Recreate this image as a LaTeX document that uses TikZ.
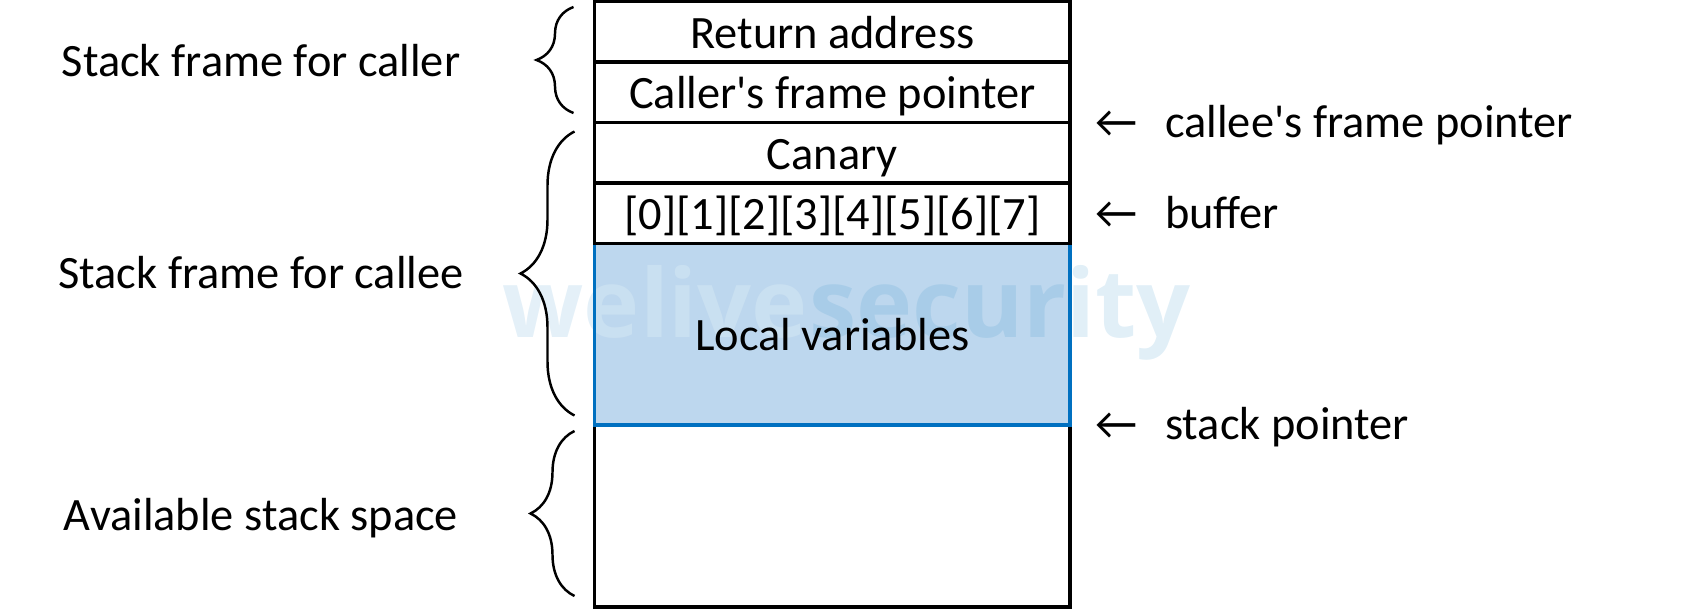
\documentclass[tikz,border=0pt]{standalone}
\usepackage{fontspec}
\setmainfont{Carlito}
\newfontfamily\wmfont{Open Sans}
\usetikzlibrary{positioning, calc, decorations.pathreplacing}

\definecolor{localfill}{HTML}{BDD7EE}
\definecolor{localline}{HTML}{0070C0}
\definecolor{wmblue}{RGB}{41,141,198}
\definecolor{wmpale}{RGB}{210,230,243}

\pgfdeclarelayer{bg}
\pgfdeclarelayer{wm}
\pgfsetlayers{bg,wm,main}

\tikzset{
	cell/.style = {draw, line width = 0.9pt, minimum width = 4.755cm, minimum height = 0.605cm, inner sep = 0pt, outer sep = 0pt, text height = 9.3pt},
	stackbrace/.style = {decorate, decoration = {brace, amplitude = #1}, line width = 0.7pt},
	wm/.style = {font = \wmfont\bfseries\fontsize{27}{27}\selectfont, inner sep = 0pt}
}

\begin{document}
\begin{tikzpicture}[every node/.style = {font = \fontsize{13.2}{15}\selectfont, text height = 8.5pt, text depth = 0pt}]

	\useasboundingbox (0, 0) rectangle (16.94, -6.10);

	% Stack cells, from the bottom up
	
	\node [cell, minimum height = 1.82cm] (avail) at (8.3225, -5.16) {};
	\node [cell, draw = localline, minimum height = 1.815cm, above = 0pt of avail] (locals) {Local variables};
	\node [cell, above = 0pt of locals] (buffer) {[0][1][2][3][4][5][6][7]};
	\node [cell, above = 0pt of buffer] (canary) {Canary};
	\node [cell, above = 0pt of canary] (callerfp) {Caller\textquotesingle s frame pointer};
	\node [cell, above = 0pt of callerfp] (retaddr) {Return address};
	
	\begin{pgfonlayer}{bg}
		\fill [localfill] (locals.north west) rectangle (locals.south east);
	\end{pgfonlayer}
	
	% Watermark
	
	\begin{pgfonlayer}{wm}
		\node [wm, text = wmpale, opacity = 0.6, anchor = base west] (wmwelive) at (5.02, -3.38) {welive};
		\node [wm, text = wmblue, opacity = 0.14, anchor = base west] (wmsecurity) at (wmwelive.base east) {security};
	\end{pgfonlayer}
	
	% Braces and frame names
	
	\draw [stackbrace = 0.37cm] ([xshift = -0.21cm, yshift = 0.095cm]callerfp.south west) -- ([xshift = -0.21cm, yshift = -0.055cm]retaddr.north west);
	\draw [stackbrace = 0.54cm] ([xshift = -0.2cm, yshift = 0.095cm]locals.south west) -- ([xshift = -0.2cm, yshift = -0.09cm]canary.north west);
	\draw [stackbrace = 0.44cm] ([xshift = -0.2cm, yshift = 0.11cm]avail.south west) -- ([xshift = -0.2cm, yshift = -0.06cm]avail.north west);
	
	\coordinate (lblx) at (2.61, 0);
	\coordinate (calleemid) at ($(canary.north)!0.5!(locals.south)$);
	\node (callerlbl) at (lblx |- retaddr.south) {Stack frame for caller};
	\node (calleelbl) at (lblx |- calleemid) {Stack frame for callee};
	\node (availlbl) at (lblx |- avail) {Available stack space};
	
	% Pointers
	
	\node [right = 0.13cm of callerfp.south east] (calleefplbl) {←\hspace{0.6em}callee\textquotesingle s frame pointer};
	\node [right = 0.13cm of buffer.east] (bufferlbl) {←\hspace{0.6em}buffer};
	\node [right = 0.13cm of locals.south east] (splbl) {←\hspace{0.6em}stack pointer};
	
\end{tikzpicture}
\end{document}
